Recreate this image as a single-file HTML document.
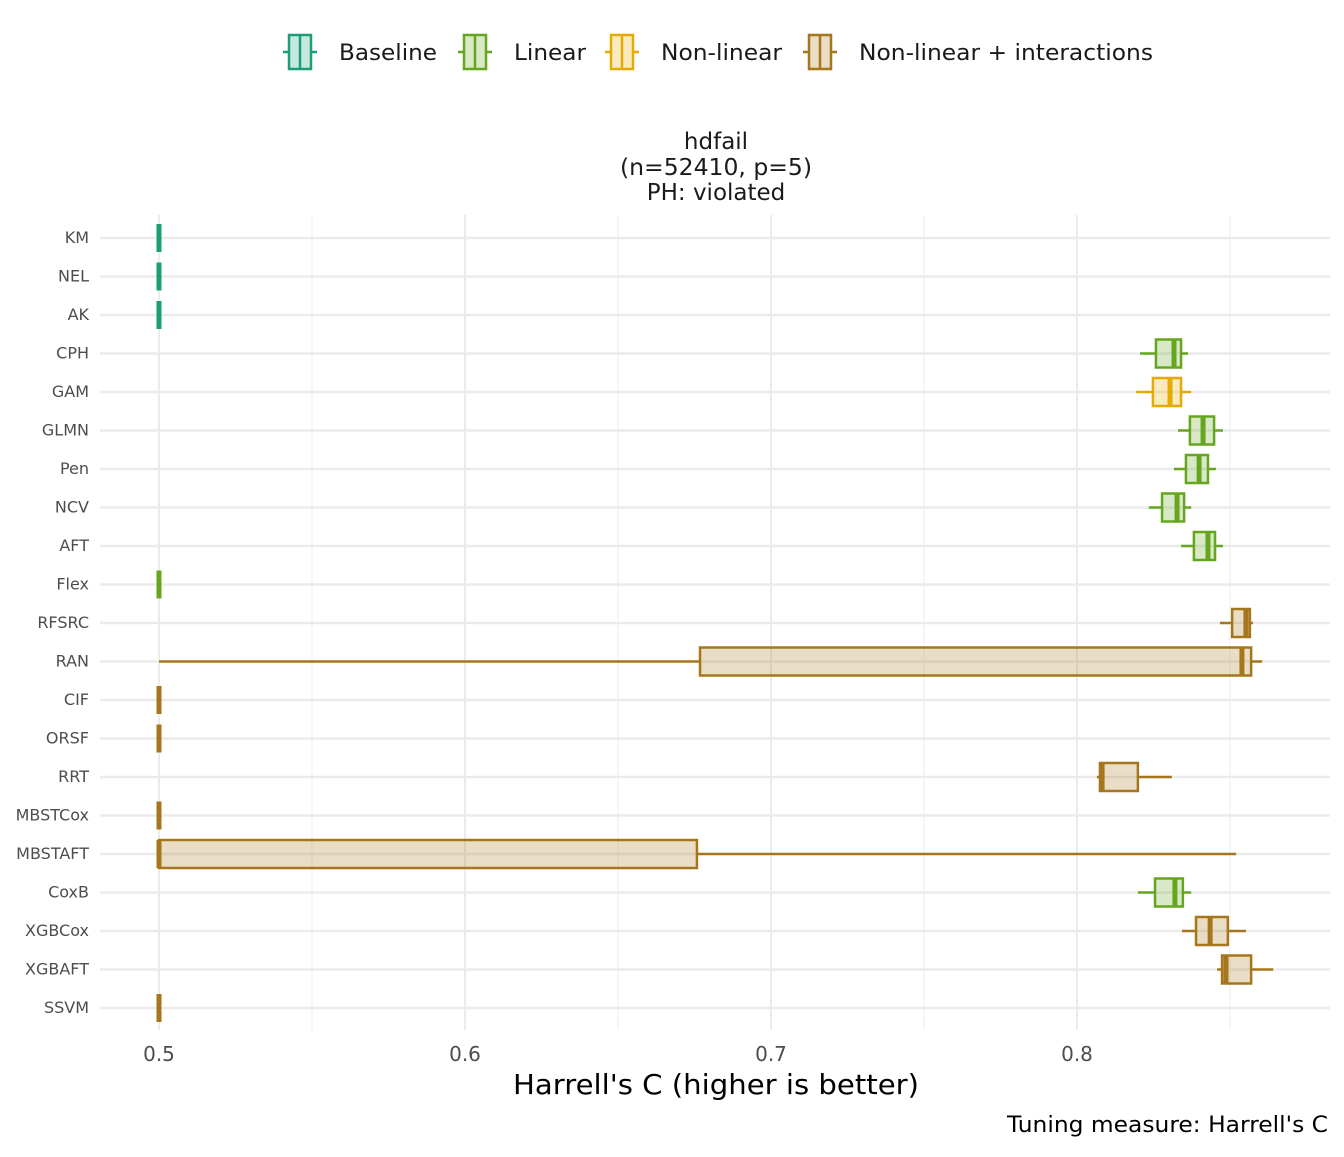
<!DOCTYPE html>
<html><head><meta charset="utf-8"><style>
body{margin:0;background:#fff;}
svg text{font-family:"DejaVu Sans","Liberation Sans",sans-serif;}
</style></head><body>
<svg id="chart" width="1344" height="1152" xmlns="http://www.w3.org/2000/svg">
<g id="legend"></g>
<g>
<text x="716" y="149" text-anchor="middle" font-size="23" fill="#1a1a1a">hdfail</text>
<text x="716" y="175" text-anchor="middle" font-size="23" fill="#1a1a1a" textLength="192" lengthAdjust="spacingAndGlyphs">(n=52410, p=5)</text>
<text x="716" y="200" text-anchor="middle" font-size="23" fill="#1a1a1a">PH: violated</text>
</g>
<g id="grid"></g>
<g id="marks"></g>
<g id="axes"></g>
<text x="716" y="1094" text-anchor="middle" font-size="28" fill="#000" textLength="406" lengthAdjust="spacingAndGlyphs">Harrell's C (higher is better)</text>
<text x="1328" y="1132" text-anchor="end" font-size="22" fill="#000" textLength="321" lengthAdjust="spacingAndGlyphs">Tuning measure: Harrell's C</text>
</svg>
<script>
const models=["KM","NEL","AK","CPH","GAM","GLMN","Pen","NCV","AFT","Flex","RFSRC","RAN","CIF","ORSF","RRT","MBSTCox","MBSTAFT","CoxB","XGBCox","XGBAFT","SSVM"];
const groups=["Baseline","Baseline","Baseline","Linear","Non-linear","Linear","Linear","Linear","Linear","Linear","Non-linear + interactions","Non-linear + interactions","Non-linear + interactions","Non-linear + interactions","Non-linear + interactions","Non-linear + interactions","Non-linear + interactions","Linear","Non-linear + interactions","Non-linear + interactions","Non-linear + interactions"];
const wlo=[0.5,0.5,0.5,0.8206,0.8193,0.8330,0.8317,0.8235,0.8340,0.5,0.8467,0.5,0.5,0.5,0.8065,0.5,0.5,0.8199,0.8343,0.8458,0.5];
const q1 =[0.5,0.5,0.5,0.8258,0.8248,0.8369,0.8356,0.8278,0.8382,0.5,0.8507,0.6768,0.5,0.5,0.8075,0.5,0.5,0.8255,0.8389,0.8474,0.5];
const med=[0.5,0.5,0.5,0.8317,0.8304,0.8412,0.8399,0.8327,0.8428,0.5,0.8552,0.8539,0.5,0.5,0.8082,0.5,0.5,0.8320,0.8435,0.8487,0.5];
const q3 =[0.5,0.5,0.5,0.8340,0.8340,0.8448,0.8428,0.8350,0.8451,0.5,0.8565,0.8569,0.5,0.5,0.8199,0.5,0.6758,0.8346,0.8493,0.8569,0.5];
const whi=[0.5,0.5,0.5,0.8363,0.8373,0.8477,0.8454,0.8373,0.8477,0.5,0.8575,0.8605,0.5,0.5,0.8310,0.5,0.8520,0.8373,0.8552,0.8641,0.5];
const xTicks=[0.5,0.6,0.7,0.8];
const xMinor=[0.55,0.65,0.75,0.85];
const groupNames=["Baseline","Linear","Non-linear","Non-linear + interactions"];
const groupColors=["#1b9e77","#66a61e","#e6ab02","#a6761d"];
const NS="http://www.w3.org/2000/svg";
const X0=100,X1=1330,Y0=215,Y1=1030;
const x=v=>159+(v-0.5)*3060;
const rowTop=238;
const step=(1008-238)/(models.length-1);
const y=i=>rowTop+i*step;
function mk(tag,attrs,parent){const e=document.createElementNS(NS,tag);for(const k in attrs)e.setAttribute(k,attrs[k]);parent.appendChild(e);return e;}
const grid=document.getElementById('grid'),marks=document.getElementById('marks'),axes=document.getElementById('axes'),legend=document.getElementById('legend');
xMinor.forEach(v=>{const l=mk('line',{x1:x(v),x2:x(v),y1:Y0,y2:Y1,stroke:'#f0f0f0','stroke-width':1.2},grid);

});
xTicks.forEach(v=>{const l=mk('line',{x1:x(v),x2:x(v),y1:Y0,y2:Y1,stroke:'#ebebeb','stroke-width':2},grid);


const t=mk('text',{x:x(v),y:1061,'text-anchor':'middle','font-size':20,fill:'#4d4d4d'},axes);t.textContent=v.toFixed(1);

});
models.forEach((m,i)=>{const l=mk('line',{x1:X0,x2:X1,y1:y(i),y2:y(i),stroke:'#ebebeb','stroke-width':2.5},grid);


const t=mk('text',{x:89,y:y(i)+5,'text-anchor':'end','font-size':16,fill:'#4d4d4d'},axes);t.textContent=m;


const c=groupColors[groupNames.indexOf(groups[i])];
const g=mk('g',{},marks);


const yc=y(i),h=14;
mk('line',{x1:x(wlo[i]),x2:x(q1[i]),y1:yc,y2:yc,stroke:c,'stroke-width':2.5},g);
mk('line',{x1:x(q3[i]),x2:x(whi[i]),y1:yc,y2:yc,stroke:c,'stroke-width':2.5},g);
mk('rect',{x:x(q1[i]),y:yc-h,width:Math.max(0,x(q3[i])-x(q1[i])),height:2*h,fill:c,'fill-opacity':0.25,stroke:c,'stroke-width':2.5},g);
mk('line',{x1:x(med[i]),x2:x(med[i]),y1:yc-h,y2:yc+h,stroke:c,'stroke-width':5},g);
});
const lx=[300,475,622,820];
const lw=[98,72,121,294];
groupNames.forEach((n,k)=>{const g=mk('g',{},legend);


const c=groupColors[k],cx=lx[k],cy=52;
mk('line',{x1:cx-17,x2:cx+17,y1:cy,y2:cy,stroke:c,'stroke-width':2.5},g);
mk('rect',{x:cx-11,y:cy-17,width:22,height:34,fill:'#fff',stroke:'none'},g);
mk('rect',{x:cx-11,y:cy-17,width:22,height:34,fill:c,'fill-opacity':0.25,stroke:c,'stroke-width':2.5},g);
mk('line',{x1:cx,x2:cx,y1:cy-17,y2:cy+17,stroke:c,'stroke-width':2.5},g);
const t=mk('text',{x:cx+39,y:cy+8,'font-size':22,fill:'#1a1a1a',textLength:lw[k],lengthAdjust:'spacingAndGlyphs'},g);t.textContent=n;});
</script>
</body></html>
